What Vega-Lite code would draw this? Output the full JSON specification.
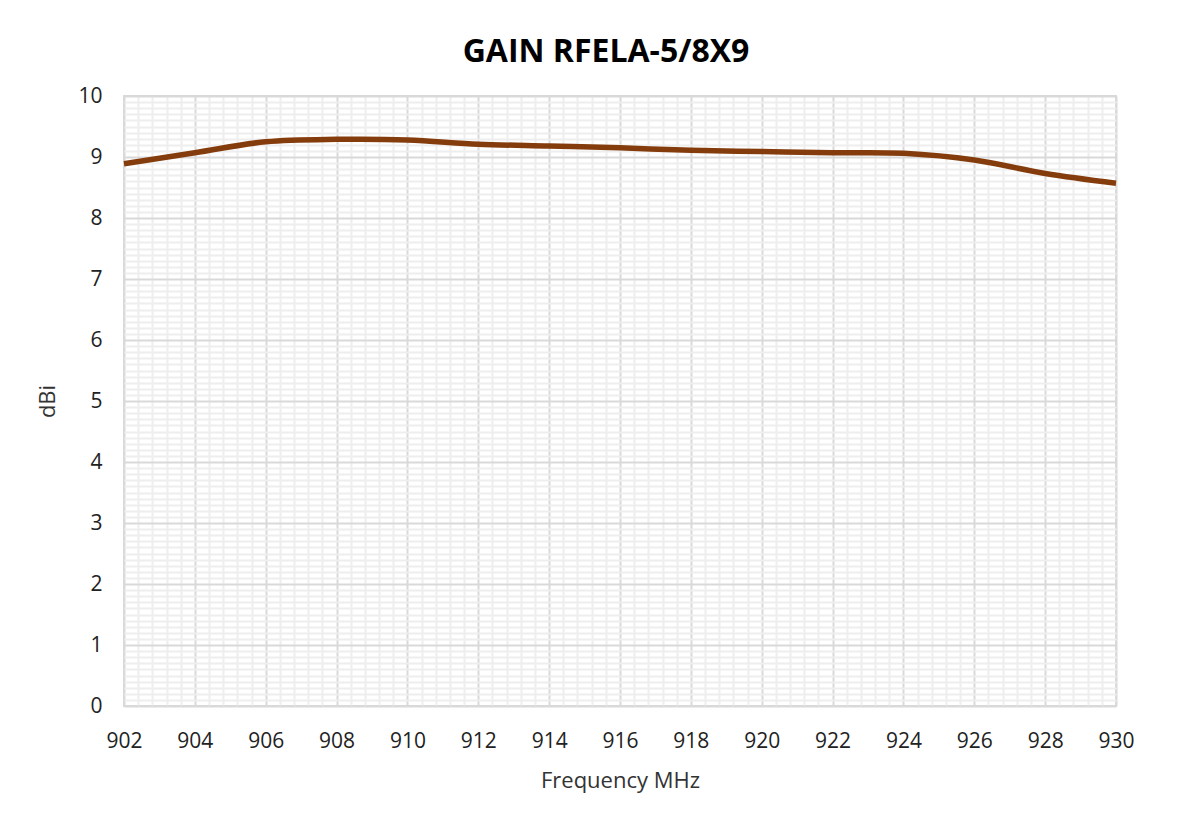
{
  "$schema": "https://vega.github.io/schema/vega-lite/v6.json",
  "width": 992,
  "height": 610,
  "autosize": "none",
  "padding": {"left": 124, "top": 96, "right": 87, "bottom": 109},
  "background": "white",
  "title": {"text": "GAIN RFELA-5/8X9", "font": "Open Sans", "fontSize": 32, "fontWeight": "bold", "color": "#000000", "anchor": "middle", "dx": -14, "offset": 16},
  "config": {"view": {"stroke": "#d9d9d9", "strokeWidth": 2}},
  "data": {"values": [
    {"f": 902, "g": 8.89},
    {"f": 904, "g": 9.07},
    {"f": 906, "g": 9.25},
    {"f": 908, "g": 9.29},
    {"f": 910, "g": 9.28},
    {"f": 912, "g": 9.21},
    {"f": 914, "g": 9.18},
    {"f": 916, "g": 9.15},
    {"f": 918, "g": 9.11},
    {"f": 920, "g": 9.09},
    {"f": 922, "g": 9.07},
    {"f": 924, "g": 9.06},
    {"f": 926, "g": 8.95},
    {"f": 928, "g": 8.73},
    {"f": 930, "g": 8.57}
  ]},
  "mark": {"type": "line", "color": "#843c0c", "strokeWidth": 5.5, "interpolate": "catmull-rom"},
  "encoding": {
    "x": {
      "field": "f", "type": "quantitative",
      "scale": {"domain": [902, 930], "nice": false, "zero": false},
      "axis": {
        "title": "Frequency MHz", "titleFont": "Open Sans", "titleFontSize": 22, "titleFontWeight": "normal", "titleColor": "#333333", "titlePadding": 19,
        "labelFont": "Open Sans", "labelFontSize": 21, "labelColor": "#222222", "labelPadding": 24,
        "labelFlush": false, "labelOverlap": false, "labelBound": false,
        "ticks": false, "domain": false,
        "values": [902,902.4,902.8,903.2,903.6,904,904.4,904.8,905.2,905.6,906,906.4,906.8,907.2,907.6,908,908.4,908.8,909.2,909.6,910,910.4,910.8,911.2,911.6,912,912.4,912.8,913.2,913.6,914,914.4,914.8,915.2,915.6,916,916.4,916.8,917.2,917.6,918,918.4,918.8,919.2,919.6,920,920.4,920.8,921.2,921.6,922,922.4,922.8,923.2,923.6,924,924.4,924.8,925.2,925.6,926,926.4,926.8,927.2,927.6,928,928.4,928.8,929.2,929.6,930],
        "labelExpr": "abs(datum.value - round(datum.value/2)*2) < 0.01 ? format(datum.value, 'd') : ''",
        "grid": true,
        "gridColor": {"condition": {"test": "abs(datum.value - round(datum.value/2)*2) < 0.01", "value": "#d9d9d9"}, "value": "#eeeeee"},
        "gridWidth": 2
      }
    },
    "y": {
      "field": "g", "type": "quantitative",
      "scale": {"domain": [0, 10], "nice": false},
      "axis": {
        "title": "dBi", "titleFont": "Open Sans", "titleFontSize": 22, "titleFontWeight": "normal", "titleColor": "#333333", "titlePadding": 18,
        "labelFont": "Open Sans", "labelFontSize": 21, "labelColor": "#222222", "labelPadding": 22,
        "labelFlush": false, "labelOverlap": false, "labelBound": false,
        "ticks": false, "domain": false,
        "values": [0,0.1,0.2,0.3,0.4,0.5,0.6,0.7,0.8,0.9,1,1.1,1.2,1.3,1.4,1.5,1.6,1.7,1.8,1.9,2,2.1,2.2,2.3,2.4,2.5,2.6,2.7,2.8,2.9,3,3.1,3.2,3.3,3.4,3.5,3.6,3.7,3.8,3.9,4,4.1,4.2,4.3,4.4,4.5,4.6,4.7,4.8,4.9,5,5.1,5.2,5.3,5.4,5.5,5.6,5.7,5.8,5.9,6,6.1,6.2,6.3,6.4,6.5,6.6,6.7,6.8,6.9,7,7.1,7.2,7.3,7.4,7.5,7.6,7.7,7.8,7.9,8,8.1,8.2,8.3,8.4,8.5,8.6,8.7,8.8,8.9,9,9.1,9.2,9.3,9.4,9.5,9.6,9.7,9.8,9.9,10],
        "labelExpr": "abs(datum.value - round(datum.value)) < 0.01 ? format(datum.value, 'd') : ''",
        "grid": true,
        "gridColor": {"condition": {"test": "abs(datum.value - round(datum.value)) < 0.01", "value": "#d9d9d9"}, "value": "#eeeeee"},
        "gridWidth": 2
      }
    }
  }
}
